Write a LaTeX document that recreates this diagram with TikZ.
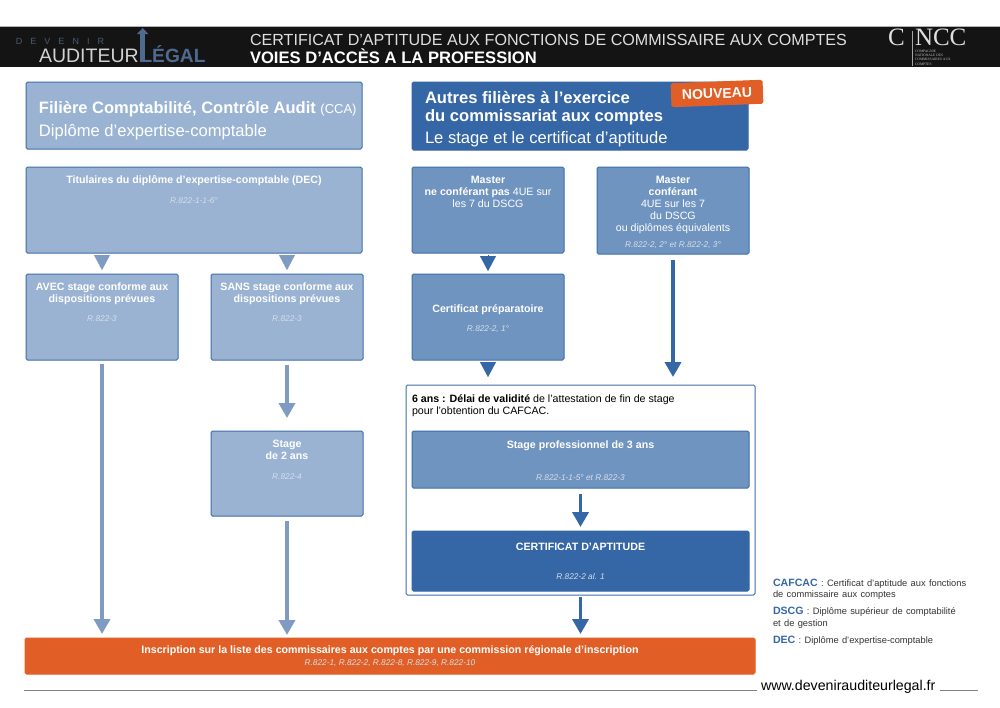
\documentclass[tikz,border=0pt]{standalone}
\usepackage{fontspec}
\setmainfont{Liberation Sans}
\newfontfamily\logoserif{Liberation Serif}
\usetikzlibrary{arrows.meta}
\definecolor{lightbox}{HTML}{9AB3D2}
\definecolor{midbox}{HTML}{7094C0}
\definecolor{darkbox}{HTML}{3566A5}
\definecolor{edgeblue}{HTML}{3D6DAB}
\definecolor{lightarrow}{HTML}{7F9BC2}
\definecolor{orangebox}{HTML}{E15F26}
\definecolor{reftext}{HTML}{D5DEEA}
\definecolor{headbar}{HTML}{141414}
\definecolor{logoblue}{HTML}{4E6A8F}
\definecolor{logodim}{HTML}{4A5A70}
\newcommand{\fs}[1]{\fontsize{#1}{#1}\selectfont}
\newcommand{\refline}[1]{{\fs{8.3}\itshape\color{reftext}#1\par}}
\newcommand{\boxbody}[4]{\parbox[c][#2pt][t]{#1pt}{\centering\fontsize{10.65}{12}\selectfont\color{white}\vspace*{#3pt}#4}}
\tikzset{
  flowbox/.style={draw=edgeblue,line width=1pt,rounded corners=1.5pt,inner sep=0pt,outer sep=0pt,anchor=north west},
  lightstyle/.style={flowbox,fill=lightbox},
  midstyle/.style={flowbox,fill=midbox},
  darkstyle/.style={flowbox,fill=darkbox,draw=darkbox},
  orangestyle/.style={flowbox,fill=orangebox,draw=orangebox},
  tip/.style={-{Triangle[width=16pt,length=15pt]},line width=0.1pt,draw=#1,color=#1},
  shaft/.style={-{Triangle[width=16pt,length=15pt]},line width=3.8pt,draw=#1,color=#1},
  plain/.style={inner sep=0pt,outer sep=0pt,anchor=base west,align=left},
}
\begin{document}
\begin{tikzpicture}[x=1pt,y=-1pt]
\useasboundingbox (0,0) rectangle (1000,707);
% header
\fill[headbar] (0,27) rectangle (1000,67);
\draw[gray!60,line width=0.8pt] (0,26.5) -- (1000,26.5);
\node[plain,text=logodim] (devenir) at (16,44.5) {\fs{9}D\hspace{8pt}E\hspace{8pt}V\hspace{8pt}E\hspace{8pt}N\hspace{8pt}I\hspace{8pt}R};
\node[plain,text=gray!35] (auditeur) at (39,62) {\fs{19.5}AUDITEUR};
\node[plain,text=logoblue] (legal) at (140.5,62) {\fs{19.2}\bfseries LÉGAL};
\coordinate (logotop) at (142.7,28);
\coordinate (logobase) at (142.7,62);
\draw[-{Triangle[width=11pt,length=6pt]},draw=logoblue,color=logoblue,line width=4.5pt] (logobase) -- (logotop);
\node[plain,text=gray!25] (titleone) at (250,45.5) {\fs{16.1}CERTIFICAT D’APTITUDE AUX FONCTIONS DE COMMISSAIRE AUX COMPTES};
\node[plain,text=white] (titletwo) at (250,63) {\fs{16.6}\bfseries VOIES D’ACCÈS A LA PROFESSION};
\node[plain,text=gray!25] (cnccA) at (888,45) {\logoserif\fs{25}C};
\node[plain,text=gray!25] (cnccB) at (915,45) {\logoserif\fs{25}NCC};
\draw[gray!70,line width=0.6pt] (912,31) -- (912,66);
\node[plain,text=gray!50,align=left,font=\logoserif\fontsize{3.6}{4.1}\selectfont] (cnccC) at (915,65) {COMPAGNIE\\NATIONALE DES\\COMMISSAIRES AUX\\COMPTES};
% heading boxes
\node[lightstyle] (cca) at (26,82) {\parbox[c][67pt][t]{336pt}{\color{white}\leftskip=13pt\vspace*{19pt}\fs{16.5}\bfseries Filière Comptabilité, Contrôle Audit {\fs{13}\mdseries(CCA)}\par\fontsize{16.6}{23}\selectfont\mdseries Diplôme d’expertise-comptable\par}};
\node[darkstyle] (autres) at (412,82) {\parbox[c][68pt][t]{336pt}{\color{white}\vspace*{9pt}\fontsize{16.6}{18}\selectfont\bfseries\leftskip=13pt Autres filières à l’exercice\par du commissariat aux comptes\par\fontsize{16.6}{22}\selectfont\mdseries Le stage et le certificat d’aptitude\par}};
\node[orangestyle,rotate=2.2,anchor=center,minimum width=91pt,minimum height=23pt,font=\fs{14}\bfseries,text=white] (nouveau) at (717,93.5) {NOUVEAU};
% left column
\node[lightstyle] (dec) at (26,167) {\boxbody{336}{86}{9}{\textbf{Titulaires du diplôme d’expertise-comptable (DEC)}\par\vspace{11pt}\refline{R.822-1-1-6°}}};
\node[lightstyle] (avec) at (26,274) {\boxbody{152}{86}{9}{\textbf{AVEC stage conforme aux dispositions prévues}\par\vspace{10pt}\refline{R.822-3}}};
\node[lightstyle] (sans) at (211,274) {\boxbody{152}{86}{9}{\textbf{SANS stage conforme aux dispositions prévues}\par\vspace{10pt}\refline{R.822-3}}};
\node[lightstyle] (stagedeux) at (211,431) {\boxbody{152}{85}{9}{\textbf{Stage\\de 2 ans}\par\vspace{12pt}\refline{R.822-4}}};
% right column
\node[midstyle] (masterA) at (412,167) {\boxbody{152}{86}{9}{\textbf{Master\\ne conférant pas} 4UE sur\\les 7 du DSCG}};
\node[midstyle] (masterB) at (597,167) {\boxbody{152}{87}{9}{\textbf{Master\\conférant}\\4UE sur les 7\\du DSCG\\ou diplômes équivalents\par\vspace{8pt}\refline{R.822-2, 2° et R.822-2, 3°}}};
\node[midstyle] (prepa) at (412,274) {\boxbody{152}{86}{31}{\textbf{Certificat préparatoire}\par\vspace{10pt}\refline{R.822-2, 1°}}};
\node[flowbox,fill=white] (frame) at (406,385) {\parbox[c][210pt][t]{349pt}{\fontsize{10.65}{12}\selectfont\vspace*{10pt}\leftskip=6pt \textbf{6 ans : Délai de validité} de l’attestation de fin de stage\par pour l’obtention du CAFCAC.\par}};
\node[midstyle] (stagepro) at (412,431) {\boxbody{337}{57}{10}{\textbf{Stage professionnel de 3 ans}\par\vspace{23pt}\refline{R.822-1-1-5° et R.822-3}}};
\node[darkstyle] (certif) at (412,531) {\boxbody{337}{60}{12}{\textbf{CERTIFICAT D’APTITUDE}\par\vspace{21pt}\refline{R.822-2 al. 1}}};
\node[orangestyle] (inscr) at (25,638) {\boxbody{730}{36}{7.5}{\textbf{Inscription sur la liste des commissaires aux comptes par une commission régionale d’inscription}\par\vspace{4pt}\refline{R.822-1, R.822-2, R.822-8, R.822-9, R.822-10}}};
% connectors
\draw[tip=lightarrow] ([yshift=-2pt]dec.south -| avec.south) -- ([yshift=4pt]avec.north);
\draw[tip=lightarrow] ([yshift=-2pt]dec.south -| sans.south) -- ([yshift=4pt]sans.north);
\draw[shaft=lightarrow] ([yshift=-4pt]avec.south) -- ([yshift=4pt]inscr.north -| avec.south);
\draw[shaft=lightarrow] ([yshift=-5pt]sans.south) -- ([yshift=13pt]stagedeux.north);
\draw[shaft=lightarrow] ([yshift=-5pt]stagedeux.south) -- ([yshift=3pt]inscr.north -| stagedeux.south);
\draw[tip=darkbox] ([yshift=-2pt]masterA.south) -- ([yshift=3pt]prepa.north);
\draw[tip=darkbox] ([yshift=-2pt]prepa.south) -- ([yshift=8pt]frame.north -| prepa.south);
\draw[shaft=darkbox] ([yshift=-6pt]masterB.south) -- ([yshift=8pt]frame.north -| masterB.south);
\draw[shaft=darkbox] ([yshift=-6pt]stagepro.south) -- ([yshift=4pt]certif.north);
\draw[shaft=darkbox] ([yshift=-2pt]frame.south -| certif.south) -- ([yshift=4pt]inscr.north -| certif.south);
% glossary
\node[plain,text width=205pt] (glossA) at (773,586) {\raggedright\fontsize{9.3}{11.5}\selectfont\color{black!80}{\color{darkbox}\fs{10.6}\bfseries CAFCAC} : Certificat d’aptitude aux fonctions\par de commissaire aux comptes\par};
\node[plain,text width=205pt] (glossB) at (773,614.5) {\raggedright\fontsize{9.3}{11.5}\selectfont\color{black!80}{\color{darkbox}\fs{10.6}\bfseries DSCG} : Diplôme supérieur de comptabilité\par et de gestion\par};
\node[plain,text width=205pt] (glossC) at (773,643) {\raggedright\fontsize{9.3}{11.5}\selectfont\color{black!80}{\color{darkbox}\fs{10.6}\bfseries DEC} : Diplôme d’expertise-comptable\par};
% footer
\node[plain,text=black] (site) at (761,690.5) {\fs{14.2}www.devenirauditeurlegal.fr};
\coordinate (ruleL) at (24,690.5);
\coordinate (ruleM) at (757,690.5);
\coordinate (ruleN) at (940,690.5);
\coordinate (ruleR) at (978,690.5);
\draw[gray,line width=0.8pt] (ruleL) -- (ruleM);
\draw[gray,line width=0.8pt] (ruleN) -- (ruleR);
\end{tikzpicture}
\end{document}
